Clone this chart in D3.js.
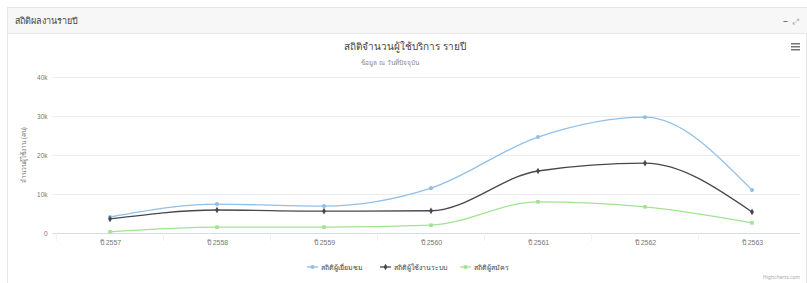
<!DOCTYPE html>
<html><head><meta charset="utf-8">
<script src="https://cdn.jsdelivr.net/npm/d3@7"></script>
<style>
body{margin:0;background:#fff;font-family:"Noto Sans","DejaVu Sans",sans-serif;}
svg{display:block}
</style></head>
<body><svg id="c" width="807" height="283"></svg>
<script>
const categories = ["ปี 2557","ปี 2558","ปี 2559","ปี 2560","ปี 2561","ปี 2562","ปี 2563"];
const seriesNames = ["สถิติผู้เยี่ยมชม","สถิติผู้ใช้งานระบบ","สถิติผู้สมัคร"];
const visitors = [4100, 7400, 6900, 11500, 24600, 29700, 11000];
const users = [3600, 5900, 5600, 5700, 15900, 17900, 5400];
const applicants = [300, 1500, 1500, 2000, 8000, 6700, 2600];
const yTicks = [0, 10000, 20000, 30000, 40000];
const yTickLabels = ["0","10k","20k","30k","40k"];
const colors = ["#92bfe6","#474750","#a2e393"];

(function(){
const svg = d3.select("#c");
const W = 807, H = 283;
svg.append("rect").attr("x",7.5).attr("y",7.5).attr("width",W-8).attr("height",H).attr("fill","#fff").attr("stroke","#e6e6e6");
svg.append("rect").attr("x",8).attr("y",8).attr("width",W-8).attr("height",25).attr("fill","#f7f7f7");
svg.append("line").attr("x1",8).attr("x2",W).attr("y1",33.5).attr("y2",33.5).attr("stroke","#e8e8e8");
svg.append("text").attr("x",15).attr("y",24).attr("font-size",9).attr("fill","#444").text("สถิติผลงานรายปี");
svg.append("text").attr("x",783).attr("y",24).attr("font-size",10).attr("fill","#666").text("–");
svg.append("text").attr("x",793).attr("y",24).attr("font-size",8).attr("fill","#aaa").text("⤢");

svg.append("text").attr("x",405).attr("y",50).attr("text-anchor","middle").attr("font-size",10).attr("fill","#444").text("สถิติจำนวนผู้ใช้บริการ รายปี");
svg.append("text").attr("x",390).attr("y",65).attr("text-anchor","middle").attr("font-size",6.5).attr("fill","#888").text("ข้อมูล ณ วันที่ปัจจุบัน");
const hb = svg.append("g").attr("transform","translate(791,43)");
[0,3,6].forEach(d=>hb.append("rect").attr("x",0).attr("y",d).attr("width",9).attr("height",1.5).attr("fill","#777"));

const pLeft = 56.5, pRight = 805.5, pTop = 77, pBottom = 233;
const x = d3.scalePoint().domain(categories).range([pLeft, pRight]).padding(0.5);
const y = d3.scaleLinear().domain([0, 40000]).range([pBottom, pTop]);

const g = svg.append("g");
g.selectAll(".grid").data(yTicks.slice(1)).join("line")
  .attr("x1",pLeft-4).attr("x2",800).attr("y1",d=>Math.round(y(d))+0.5).attr("y2",d=>Math.round(y(d))+0.5)
  .attr("stroke","#ececec");
const xAxis = d3.axisBottom(x).tickSize(0).tickPadding(7);
const ax = g.append("g").attr("transform",`translate(0,${pBottom+0.5})`).call(xAxis);
ax.select(".domain").attr("stroke","#d3dcee").attr("d",`M${pLeft-4},0H800`);
ax.selectAll("text").attr("font-size",7).attr("fill","#777").attr("font-family","inherit");
const step = x.step();
g.selectAll(".btick").data(d3.range(categories.length)).join("line")
  .attr("x1",(d)=>x(categories[d])-step/2).attr("x2",(d)=>x(categories[d])-step/2)
  .attr("y1",pBottom).attr("y2",pBottom+8).attr("stroke","#eef1f7");
const yAxis = d3.axisLeft(y).tickValues(yTicks).tickSize(0).tickPadding(0).tickFormat((d,i)=>yTickLabels[i]);
const ay = g.append("g").attr("transform",`translate(${pLeft-9},0)`).call(yAxis);
ay.select(".domain").remove();
ay.selectAll("text").attr("font-size",6.5).attr("fill","#777").attr("font-family","inherit");
svg.append("text").attr("transform","translate(26,155) rotate(-90)").attr("text-anchor","middle").attr("font-size",6.5).attr("fill","#777").text("จำนวนผู้ใช้งาน (คน)");

const series = [visitors, users, applicants];
const line = d3.line().x((d,i)=>x(categories[i])).y(d=>y(d)).curve(d3.curveMonotoneX);
const symbols = [d3.symbolCircle, d3.symbolDiamond, d3.symbolSquare];
series.forEach((s,k)=>{
  g.append("path").attr("d",line(s)).attr("fill","none").attr("stroke",colors[k]).attr("stroke-width",1.3);
  g.selectAll(".m"+k).data(s).join("path")
    .attr("transform",(d,i)=>`translate(${x(categories[i])},${y(d)})`)
    .attr("d",d3.symbol().type(symbols[k]).size(13)).attr("fill",colors[k]);
});

const legendX = [307, 380, 460];
seriesNames.forEach((n,k)=>{
  const lg = svg.append("g").attr("transform",`translate(${legendX[k]},267)`);
  lg.append("line").attr("x1",0).attr("x2",11).attr("y1",0).attr("y2",0).attr("stroke",colors[k]).attr("stroke-width",1.3);
  lg.append("path").attr("transform","translate(5.5,0)").attr("d",d3.symbol().type(symbols[k]).size(13)).attr("fill",colors[k]);
  lg.append("text").attr("x",14).attr("y",2.5).attr("font-size",7).attr("fill","#444").text(n);
});
svg.append("text").attr("x",800).attr("y",279).attr("text-anchor","end").attr("font-size",5).attr("fill","#aaa").text("Highcharts.com");
})();
</script></body></html>
